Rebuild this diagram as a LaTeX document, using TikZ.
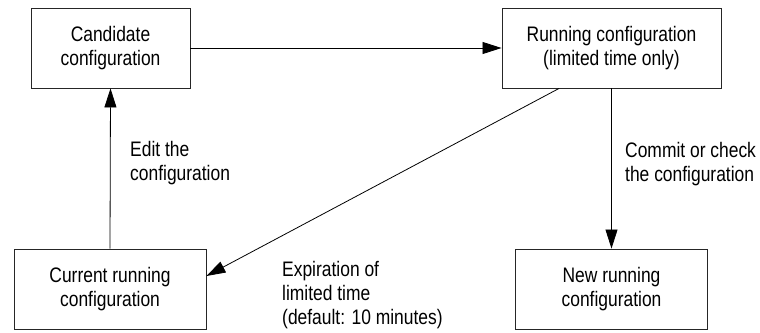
\documentclass[tikz,border=0pt]{standalone}
\usepackage{fontspec}
\setmainfont{Liberation Sans}[FakeStretch=0.83]
\usetikzlibrary{arrows.meta}
\begin{document}
\begin{tikzpicture}[x=1pt,y=-1pt,
  box/.style={draw=black!85,line width=0.9pt,minimum height=80pt,align=center,inner sep=0pt,
    font=\fontsize{21}{24}\selectfont},
  lbl/.style={align=left,inner sep=0pt,anchor=west,font=\fontsize{21}{24}\selectfont},
  arr/.style={line width=0.8pt,-{Triangle[length=19pt,width=12pt]}}]
\useasboundingbox (0,0) rectangle (760,332);
\node[box,minimum width=159pt] (cand) at (110.5,48) {Candidate\\configuration};
\node[box,minimum width=219pt] (run) at (611.5,48) {Running configuration\\(limited time only)};
\node[box,minimum width=192pt] (cur) at (110,289) {Current running\\configuration};
\node[box,minimum width=192pt] (new) at (611.5,289) {New running\\configuration};
\draw[arr] (cand.east) -- (run.west);
\draw[arr] (cur.north) -- (cand.south);
\draw[arr] (run.south) -- (new.north);
\draw[arr] ([xshift=-52.5pt]run.south) -- ([yshift=13pt]cur.east);
\node[lbl] (edit) at (130,163) {Edit the\\configuration};
\node[lbl] (commit) at (625,164) {Commit or check\\the configuration};
\node[lbl] (exp) at (282,295) {Expiration of\\limited time\\(default: 10 minutes)};
\end{tikzpicture}
\end{document}
